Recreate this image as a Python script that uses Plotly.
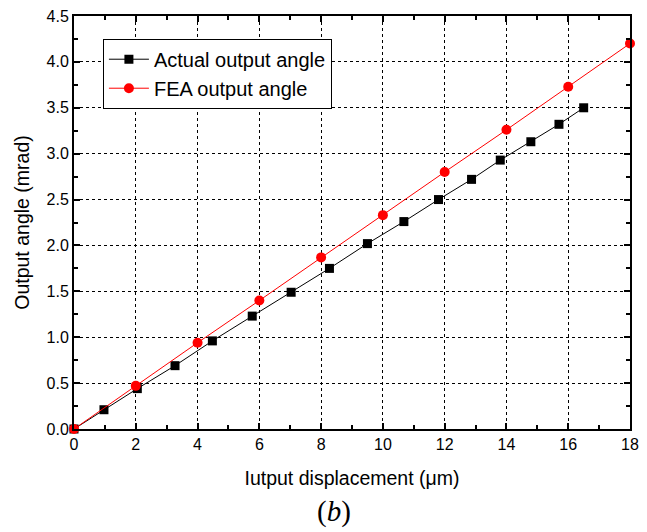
import plotly.graph_objects as go

actual_x = [0, 0.97, 2.05, 3.27, 4.48, 5.77, 7.03, 8.27, 9.5, 10.68, 11.8, 12.87, 13.8, 14.79, 15.7, 16.5]
actual_y = [0, 0.21, 0.44, 0.69, 0.96, 1.23, 1.49, 1.75, 2.02, 2.26, 2.50, 2.72, 2.93, 3.13, 3.32, 3.50]
fea_x = [0, 2, 4, 6, 8, 10, 12, 14, 16, 18]
fea_y = [0, 0.47, 0.94, 1.40, 1.87, 2.33, 2.80, 3.26, 3.73, 4.20]

fig = go.Figure()
fig.add_trace(go.Scatter(x=actual_x, y=actual_y, mode="lines+markers", name="Actual output angle",
                         line=dict(color="black", width=1),
                         marker=dict(symbol="square", size=9, color="black"), cliponaxis=False))
fig.add_trace(go.Scatter(x=fea_x, y=fea_y, mode="lines+markers", name="FEA output angle",
                         line=dict(color="red", width=1),
                         marker=dict(symbol="circle", size=10, color="red"), cliponaxis=False))

axis_common = dict(showline=True, linecolor="black", linewidth=2, mirror="allticks",
                   ticks="inside", ticklen=6, tickwidth=1.5, tickcolor="black",
                   showgrid=True, gridcolor="black", griddash="3px,3px", gridwidth=1,
                   zeroline=False, automargin=False, ticklabeloverflow="allow",
                   tickfont=dict(family="Liberation Sans, Arial", size=16, color="black"))

fig.update_xaxes(range=[0, 18], dtick=2, tick0=0,
                 minor=dict(ticks="inside", dtick=1, ticklen=4, tickcolor="black", showgrid=False),
                 title=dict(text="Iutput displacement (μm)", standoff=19,
                            font=dict(family="Liberation Sans, Arial", size=19.5, color="black")),
                 **axis_common)
fig.update_yaxes(range=[0, 4.5], dtick=0.5, tick0=0, tickformat=".1f",
                 minor=dict(ticks="inside", dtick=0.25, ticklen=4, tickcolor="black", showgrid=False),
                 title=dict(text="Output angle (mrad)", standoff=12,
                            font=dict(family="Liberation Sans, Arial", size=19.5, color="black")),
                 **axis_common)

fig.add_annotation(text="(<i>b</i>)", xref="paper", yref="paper", x=0.468, y=-0.2,
                   showarrow=False, yanchor="middle",
                   font=dict(family="Liberation Serif, Times New Roman", size=29, color="black"))

fig.update_layout(width=639, height=524, margin=dict(l=66, r=17, t=8, b=103),
                  plot_bgcolor="white", paper_bgcolor="white",
                  legend=dict(x=0.052, y=0.945, xanchor="left", yanchor="top",
                              bgcolor="white", bordercolor="black", borderwidth=1,
                              font=dict(family="Liberation Sans, Arial", size=20, color="black"),
                              tracegroupgap=0, itemwidth=40))

fig.write_html("out.html")
